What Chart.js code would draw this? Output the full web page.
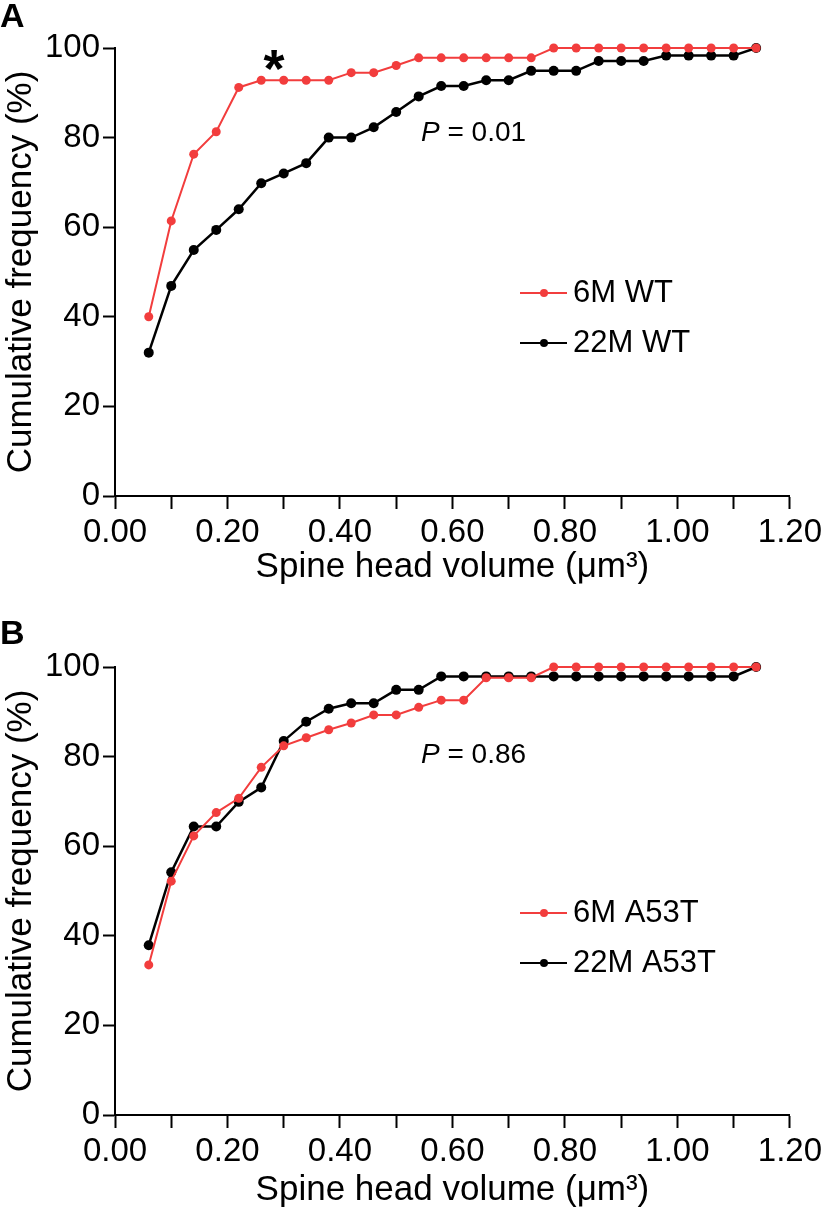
<!DOCTYPE html>
<html>
<head>
<meta charset="utf-8">
<script src="https://cdn.jsdelivr.net/npm/chart.js@4.4.0/dist/chart.umd.min.js"></script>
<style>
  body { margin: 0; background: #fff; }
  canvas { display: block; }
</style>
</head>
<body>
<canvas id="chartA" width="826" height="600"></canvas>
<canvas id="chartB" width="826" height="612"></canvas>
<script>
// spine head volume bins (um^3)
const volumes = [0.06, 0.10, 0.14, 0.18, 0.22, 0.26, 0.30, 0.34, 0.38, 0.42,
                 0.46, 0.50, 0.54, 0.58, 0.62, 0.66, 0.70, 0.74, 0.78, 0.82,
                 0.86, 0.90, 0.94, 0.98, 1.02, 1.06, 1.10, 1.14];

// panel A
const wt6M = [40.0, 61.4, 76.3, 81.3, 91.2, 92.8, 92.8, 92.8, 92.8, 94.5,
              94.5, 96.1, 97.8, 97.8, 97.8, 97.8, 97.8, 97.8, 100, 100,
              100, 100, 100, 100, 100, 100, 100, 100];
const wt22M = [32.0, 46.9, 54.9, 59.4, 64.0, 69.8, 72.0, 74.3, 80.0, 80.0,
               82.3, 85.7, 89.2, 91.5, 91.5, 92.8, 92.8, 94.9, 94.9, 94.9,
               97.1, 97.1, 97.1, 98.3, 98.3, 98.3, 98.3, 100];

// panel B
const a53t6M = [33.5, 52.2, 62.3, 67.5, 70.7, 77.6, 82.4, 84.2, 86.0, 87.5,
                89.3, 89.3, 91.0, 92.6, 92.6, 97.6, 97.6, 97.6, 100, 100,
                100, 100, 100, 100, 100, 100, 100, 100];
const a53t22M = [37.9, 54.2, 64.4, 64.4, 69.9, 73.1, 83.5, 87.8, 90.7, 91.9,
                 91.9, 94.9, 94.9, 97.9, 97.9, 97.9, 97.9, 97.9, 97.9, 97.9,
                 97.9, 97.9, 97.9, 97.9, 97.9, 97.9, 97.9, 100];

const yTicks = [0, 20, 40, 60, 80, 100];

const FONT = '"Liberation Sans", Arial, Helvetica, sans-serif';
const RED = '#f23d3d';
const BLACK = '#000';

function pairs(ys) {
  return volumes.map((x, i) => ({ x: x, y: ys[i] }));
}

// panel letter, p value, star and the small legend
const decor = {
  id: 'decor',
  afterDraw(chart, args, o) {
    const ctx = chart.ctx;
    ctx.save();
    ctx.fillStyle = '#000';
    ctx.textBaseline = 'middle';
    ctx.textAlign = 'left';

    ctx.font = 'bold 34px ' + FONT;
    ctx.fillText(o.letter, 0, o.letterY);

    // P = ...
    ctx.font = 'italic 28px ' + FONT;
    ctx.fillText('P', o.pX, o.pY);
    const w = ctx.measureText('P').width;
    ctx.font = '28px ' + FONT;
    ctx.fillText(' = ' + o.pValue, o.pX + w, o.pY);

    if (o.star) {
      ctx.font = 'bold 54px ' + FONT;
      ctx.textAlign = 'center';
      ctx.fillText('*', o.star.x, o.star.y);
      ctx.textAlign = 'left';
    }

    chart.data.datasets.forEach((ds, i) => {
      const y = o.legendY + i * o.legendGap;
      ctx.strokeStyle = ds.borderColor;
      ctx.lineWidth = 2;
      ctx.beginPath();
      ctx.moveTo(o.legendX, y);
      ctx.lineTo(o.legendX + 47, y);
      ctx.stroke();
      ctx.fillStyle = ds.borderColor;
      ctx.beginPath();
      ctx.arc(o.legendX + 24, y, 4, 0, Math.PI * 2);
      ctx.fill();
      ctx.fillStyle = '#000';
      ctx.font = '31px ' + FONT;
      ctx.fillText(ds.label, o.legendX + 53, y);
    });
    ctx.restore();
  }
};

function makeChart(id, sets, top, axisH, titlePad, deco) {
  return new Chart(document.getElementById(id), {
    type: 'line',
    data: {
      datasets: sets.map(s => ({
        label: s.label,
        data: pairs(s.values),
        borderColor: s.color,
        backgroundColor: s.color,
        borderWidth: s.width,
        pointRadius: s.radius,
        pointBorderWidth: 0,
        tension: 0,
        clip: false
      }))
    },
    options: {
      responsive: false,
      animation: false,
      layout: { padding: { top: top, right: 35, left: 0, bottom: 0 } },
      plugins: { legend: { display: false }, tooltip: { enabled: false }, decor: deco },
      scales: {
        x: {
          type: 'linear',
          min: 0,
          max: 1.2,
          afterFit: s => { s.height = axisH; },
          afterBuildTicks: s => {
            s.ticks = [0, 0.1, 0.2, 0.3, 0.4, 0.5, 0.6, 0.7, 0.8, 0.9, 1.0, 1.1, 1.2].map(v => ({ value: v }));
          },
          ticks: {
            autoSkip: false,
            maxRotation: 0,
            padding: 4,
            color: '#000',
            font: { family: FONT, size: 33 },
            callback: (v, i) => (i % 2 === 0 ? v.toFixed(2) : '')
          },
          grid: { drawOnChartArea: false, tickLength: 13, tickWidth: 2, tickColor: '#000' },
          border: { display: true, color: '#000', width: 2 },
          title: {
            display: true,
            text: 'Spine head volume (\u03bcm\u00b3)',
            color: '#000',
            font: { family: FONT, size: 35 },
            padding: { top: 0, bottom: titlePad }
          }
        },
        y: {
          min: 0,
          max: 100,
          afterFit: s => { s.width = 115; },
          afterBuildTicks: s => { s.ticks = yTicks.map(v => ({ value: v })); },
          ticks: {
            padding: 3,
            color: '#000',
            font: { family: FONT, size: 33 }
          },
          grid: { drawOnChartArea: false, tickLength: 12, tickWidth: 2, tickColor: '#000' },
          border: { display: true, color: '#000', width: 2 },
          title: {
            display: true,
            text: 'Cumulative frequency (%)',
            color: '#000',
            font: { family: FONT, size: 35 },
            padding: { top: 0, bottom: 0 }
          }
        }
      }
    },
    plugins: [decor]
  });
}

makeChart('chartA', [
  { label: '6M WT', values: wt6M, color: RED, width: 2, radius: 4.5 },
  { label: '22M WT', values: wt22M, color: BLACK, width: 2.5, radius: 5 }
], 48, 104, 12, {
  letter: 'A', letterY: 18, pX: 421, pY: 133, pValue: '0.01',
  star: { x: 274, y: 72 },
  legendX: 520, legendY: 293, legendGap: 50
});

makeChart('chartB', [
  { label: '6M A53T', values: a53t6M, color: RED, width: 2, radius: 4.5 },
  { label: '22M A53T', values: a53t22M, color: BLACK, width: 2.5, radius: 5 }
], 67, 97, 1, {
  letter: 'B', letterY: 35, pX: 421, pY: 155, pValue: '0.86',
  legendX: 520, legendY: 313, legendGap: 50
});
</script>
</body>
</html>
